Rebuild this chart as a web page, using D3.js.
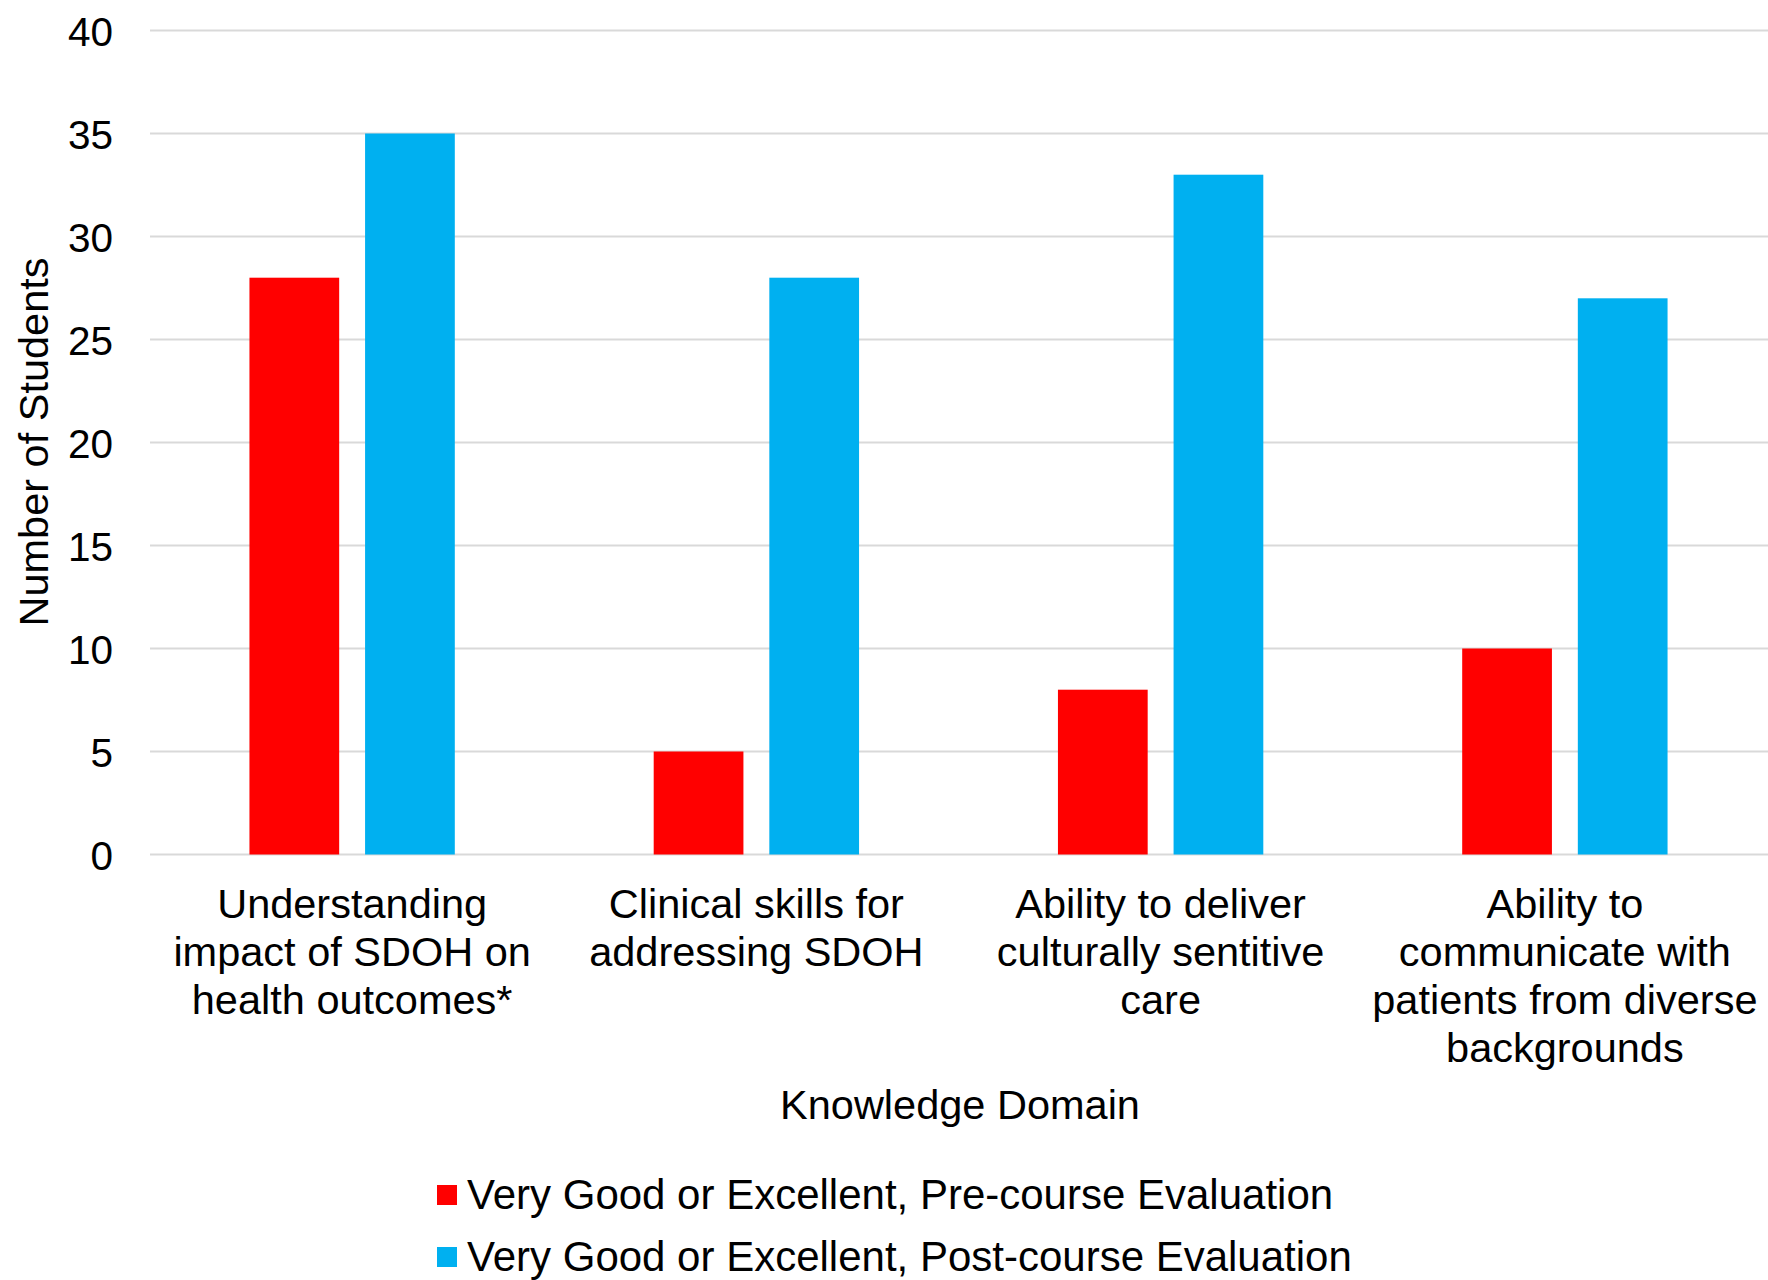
<!DOCTYPE html>
<html>
<head>
<meta charset="utf-8">
<script src="https://cdn.jsdelivr.net/npm/d3@7"></script>
<style>
  html, body { margin: 0; padding: 0; background: #fff; }
  svg { display: block; font-family: "Liberation Sans", Arial, Helvetica, sans-serif; }
</style>
</head>
<body>
<svg id="chart" width="1768" height="1280"></svg>
<script>
// Knowledge domains (x categories), with their wrapped label lines
const categories = [
  "Understanding impact of SDOH on health outcomes*",
  "Clinical skills for addressing SDOH",
  "Ability to deliver culturally sentitive care",
  "Ability to communicate with patients from diverse backgrounds"
];
const categoryLines = [
  ["Understanding", "impact of SDOH on", "health outcomes*"],
  ["Clinical skills for", "addressing SDOH"],
  ["Ability to deliver", "culturally sentitive", "care"],
  ["Ability to", "communicate with", "patients from diverse", "backgrounds"]
];

// Series: number of students rating Very Good or Excellent
const seriesNames = [
  "Very Good or Excellent, Pre-course Evaluation",
  "Very Good or Excellent, Post-course Evaluation"
];
const preCourse = [28, 5, 8, 10];
const postCourse = [35, 28, 33, 27];
const seriesColors = ["#FF0000", "#00B0F0"];

const yTicks = [0, 5, 10, 15, 20, 25, 30, 35, 40];
const yTitle = "Number of Students";
const xTitle = "Knowledge Domain";

const svg = d3.select("#chart");
const plot = { left: 150, right: 1767, top: 30.5, bottom: 854.5 };

const x = d3.scaleBand()
  .domain(categories)
  .range([plot.left, plot.right])
  .paddingInner(0)
  .paddingOuter(0);

const xInner = d3.scaleBand()
  .domain(seriesNames)
  .range([0, x.bandwidth()])
  .paddingInner(0.224)
  .paddingOuter(0.86);

const y = d3.scaleLinear()
  .domain([0, 40])
  .range([plot.bottom, plot.top]);

// Horizontal gridlines
svg.append("g")
  .selectAll("line")
  .data(yTicks)
  .join("line")
  .attr("x1", plot.left)
  .attr("x2", 1768)
  .attr("y1", d => y(d))
  .attr("y2", d => y(d))
  .attr("stroke", "#d9d9d9")
  .attr("stroke-width", 2);

// Y axis tick labels
const yAxis = d3.axisLeft(y).tickValues(yTicks).tickSize(0).tickPadding(0);
const yAxisG = svg.append("g")
  .attr("transform", `translate(113,0)`)
  .call(yAxis);
yAxisG.select(".domain").remove();
yAxisG.selectAll("text")
  .attr("font-size", 40.5)
  .attr("fill", "#000")
  .attr("font-family", "Liberation Sans, Arial, sans-serif")
  .attr("dy", "0.36em");

// Bars
const rows = categories.map((c, i) => ({ cat: c, values: [preCourse[i], postCourse[i]] }));
const groups = svg.append("g")
  .selectAll("g")
  .data(rows)
  .join("g")
  .attr("transform", d => `translate(${x(d.cat)},0)`);

groups.selectAll("rect")
  .data(d => d.values.map((v, j) => ({ name: seriesNames[j], value: v, color: seriesColors[j] })))
  .join("rect")
  .attr("x", d => xInner(d.name))
  .attr("width", xInner.bandwidth())
  .attr("y", d => y(d.value))
  .attr("height", d => y(0) - y(d.value))
  .attr("fill", d => d.color);

// Category labels (wrapped)
const lineHeight = 48;
const labelG = svg.append("g");
categories.forEach((c, i) => {
  const t = labelG.append("text")
    .attr("x", x(c) + x.bandwidth() / 2)
    .attr("y", 918)
    .attr("text-anchor", "middle")
    .attr("font-size", 41.5)
    .attr("fill", "#000");
  categoryLines[i].forEach((ln, k) => {
    t.append("tspan")
      .attr("x", x(c) + x.bandwidth() / 2)
      .attr("y", 918 + k * lineHeight)
      .text(ln);
  });
});

// Axis titles
svg.append("text")
  .attr("x", 960)
  .attr("y", 1119)
  .attr("text-anchor", "middle")
  .attr("font-size", 41.5)
  .attr("fill", "#000")
  .text(xTitle);

svg.append("text")
  .attr("transform", `translate(48,${442}) rotate(-90)`)
  .attr("text-anchor", "middle")
  .attr("font-size", 41.5)
  .attr("fill", "#000")
  .text(yTitle);

// Legend
const legend = svg.append("g");
seriesNames.forEach((name, j) => {
  const cy = 1195 + j * 62;
  legend.append("rect")
    .attr("x", 437)
    .attr("y", cy - 10)
    .attr("width", 20)
    .attr("height", 20)
    .attr("fill", seriesColors[j]);
  legend.append("text")
    .attr("x", 467)
    .attr("y", cy + 14)
    .attr("font-size", 42)
    .attr("fill", "#000")
    .text(name);
});
</script>
</body>
</html>
